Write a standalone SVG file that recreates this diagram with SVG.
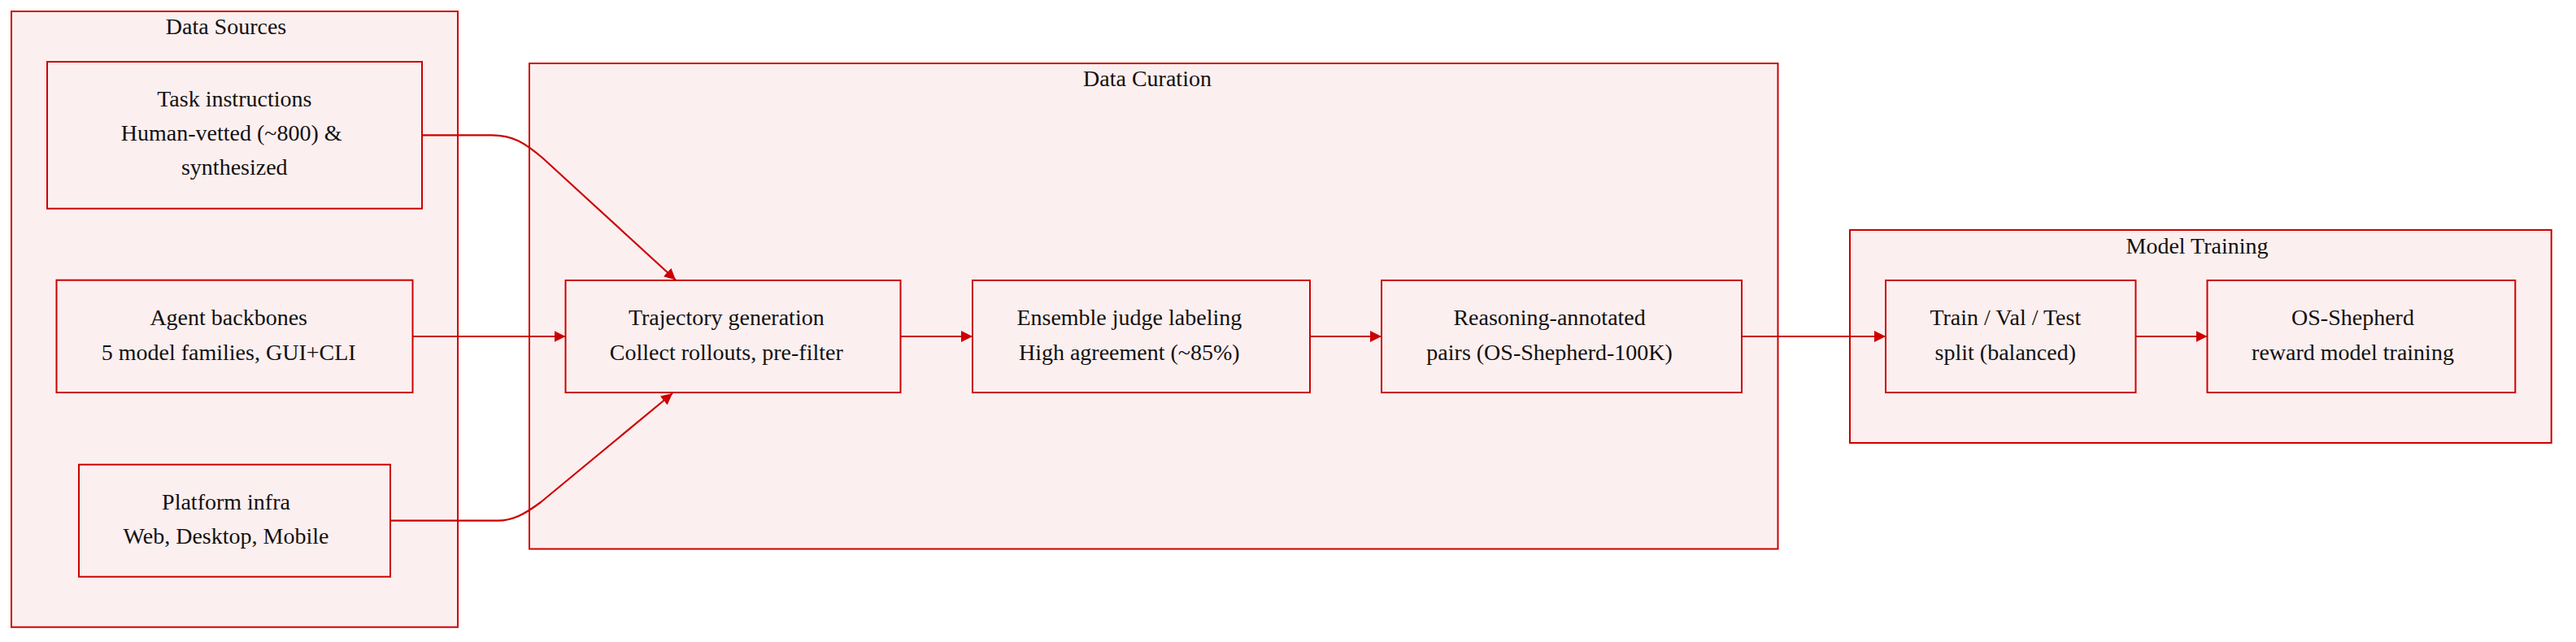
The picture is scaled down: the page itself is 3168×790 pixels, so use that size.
<svg xmlns="http://www.w3.org/2000/svg" width="3168" height="790" viewBox="0 0 3168 790">
<style>
.cl{fill:#fcefef;stroke:#cc0000;stroke-width:2}
.nd{fill:#fcefef;stroke:#cc0000;stroke-width:2}
.t{font-family:"Liberation Serif","Times New Roman",serif;font-size:28px;fill:#111;text-anchor:middle}
.e{fill:none;stroke:#cc0000;stroke-width:2.2}
</style>
<defs>
<marker id="ah" markerUnits="userSpaceOnUse" markerWidth="14" markerHeight="14" refX="14" refY="7" orient="auto">
<path d="M0,0 L14,7 L0,14 z" fill="#cc0000"/>
</marker>
</defs>
<rect width="3168" height="790" fill="#ffffff"/>
<g id="cluster-sources">
<rect class="cl" x="14" y="14" width="549" height="757.7"/>
<text class="t" x="278" y="42">Data Sources</text>
</g>
<g id="cluster-curation">
<rect class="cl" x="651" y="78" width="1535.5" height="597.5"/>
<text class="t" x="1411" y="106">Data Curation</text>
</g>
<g id="cluster-training">
<rect class="cl" x="2275" y="283" width="862.7" height="262"/>
<text class="t" x="2702" y="311.5">Model Training</text>
</g>
<g id="connectors">
<path class="e" d="M519,166.3 L605,166.3 C630,166.3 645,175 668,195 L831,344.5" marker-end="url(#ah)"/>
<path class="e" d="M507.5,414 L695.5,414" marker-end="url(#ah)"/>
<path class="e" d="M480,640.7 L612,640.7 C630,640.7 645,633 665,618 L827,484" marker-end="url(#ah)"/>
<path class="e" d="M1107.5,414 L1196,414" marker-end="url(#ah)"/>
<path class="e" d="M1611,414 L1699,414" marker-end="url(#ah)"/>
<path class="e" d="M2142,414 L2319,414" marker-end="url(#ah)"/>
<path class="e" d="M2626.5,414 L2714.5,414" marker-end="url(#ah)"/>
</g>
<g id="node-task">
<rect class="nd" x="58" y="76" width="461" height="180.7"/>
<text class="t" x="288.3" y="130.7">Task instructions</text>
<text class="t" x="284.7" y="172.5">Human-vetted (~800) &amp;</text>
<text class="t" x="288.3" y="215">synthesized</text>
</g>
<g id="node-agent">
<rect class="nd" x="69.5" y="344.7" width="438" height="138.3"/>
<text class="t" x="281.2" y="399.5">Agent backbones</text>
<text class="t" x="281.2" y="442.7">5 model families, GUI+CLI</text>
</g>
<g id="node-platform">
<rect class="nd" x="97" y="571.7" width="383" height="138"/>
<text class="t" x="278" y="626.5">Platform infra</text>
<text class="t" x="278" y="668.7">Web, Desktop, Mobile</text>
</g>
<g id="node-trajectory">
<rect class="nd" x="695.5" y="345" width="412" height="138"/>
<text class="t" x="893.3" y="399.7">Trajectory generation</text>
<text class="t" x="893.3" y="442.7">Collect rollouts, pre-filter</text>
</g>
<g id="node-ensemble">
<rect class="nd" x="1196" y="345" width="415" height="138"/>
<text class="t" x="1388.8" y="399.7">Ensemble judge labeling</text>
<text class="t" x="1388.8" y="442.7">High agreement (~85%)</text>
</g>
<g id="node-reasoning">
<rect class="nd" x="1699" y="345" width="443" height="138"/>
<text class="t" x="1905.6" y="399.7">Reasoning-annotated</text>
<text class="t" x="1905.6" y="442.7">pairs (OS-Shepherd-100K)</text>
</g>
<g id="node-split">
<rect class="nd" x="2319" y="345" width="307.5" height="138"/>
<text class="t" x="2466.3" y="399.5">Train / Val / Test</text>
<text class="t" x="2466.3" y="442.7">split (balanced)</text>
</g>
<g id="node-shepherd">
<rect class="nd" x="2714.5" y="345" width="378.8" height="138"/>
<text class="t" x="2893.5" y="399.5">OS-Shepherd</text>
<text class="t" x="2893.5" y="442.7">reward model training</text>
</g>
</svg>
